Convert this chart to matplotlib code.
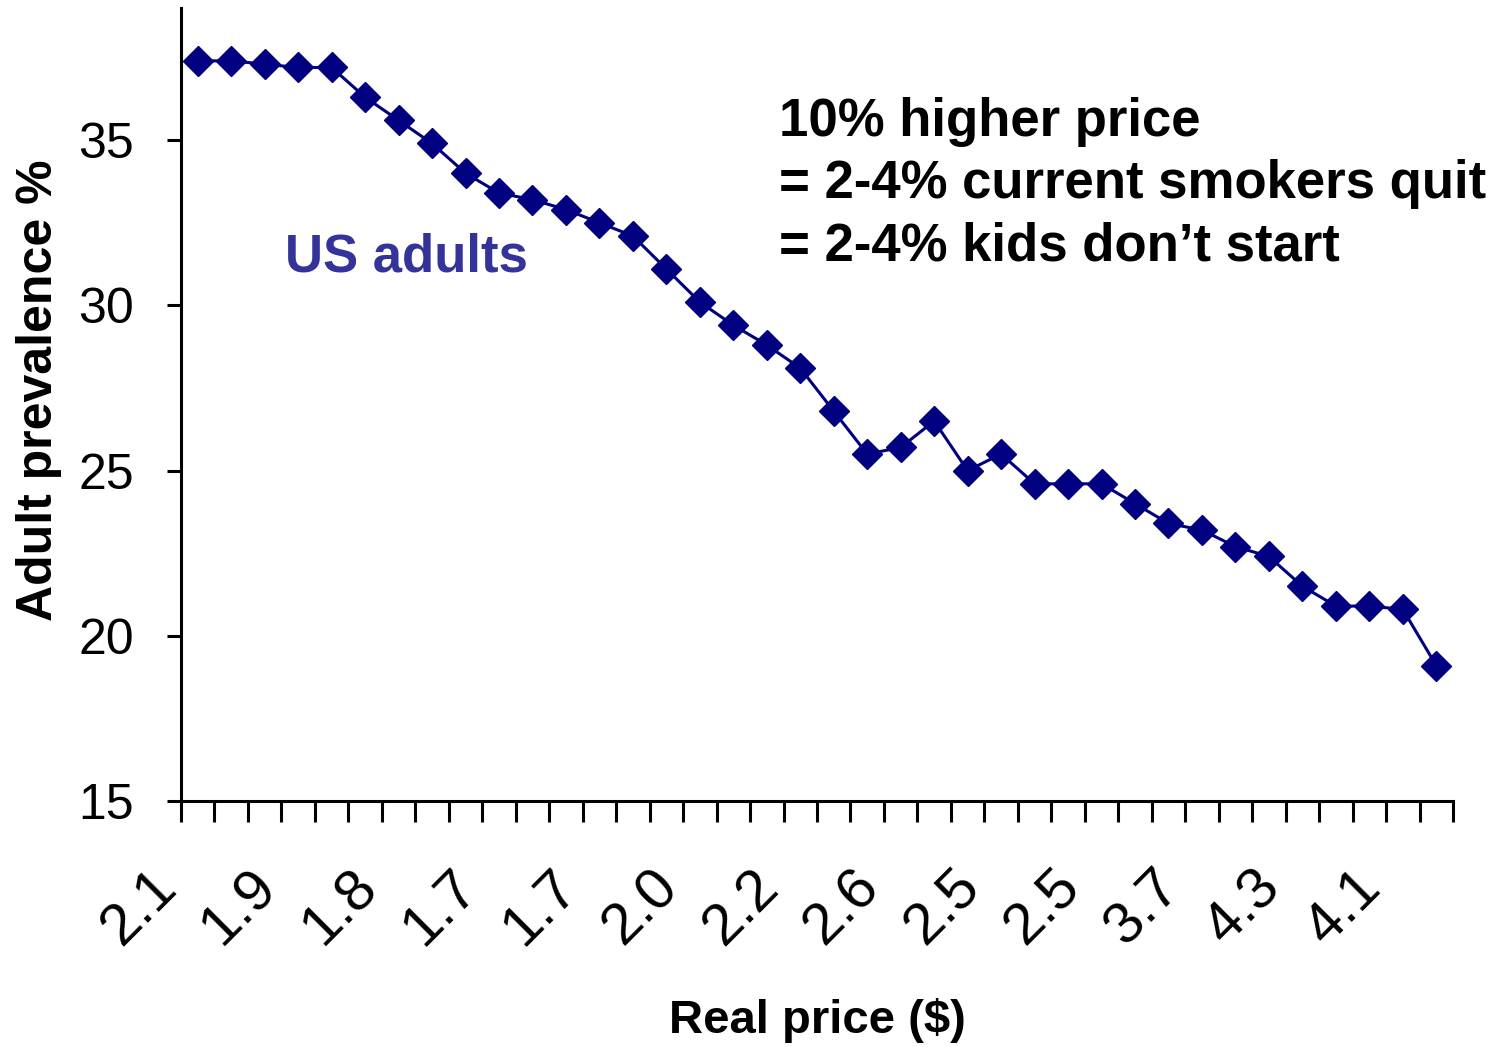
import numpy as np
import matplotlib.pyplot as plt
import matplotlib.transforms as mtransforms

plt.rcParams['font.family'] = ['Liberation Sans', 'DejaVu Sans']

# adult smoking prevalence (%), one point per year
prevalence = [37.4, 37.4, 37.3, 37.2, 37.2, 36.3, 35.6, 34.9, 34.0, 33.4,
              33.2, 32.9, 32.5, 32.1, 31.1, 30.1, 29.4, 28.8, 28.1, 26.8,
              25.5, 25.7, 26.5, 25.0, 25.5, 24.6, 24.6, 24.6, 24.0, 23.4,
              23.2, 22.7, 22.4, 21.5, 20.9, 20.9, 20.8, 19.1]

# real price ($), labelled every third category
price_labels = ['2.1', '1.9', '1.8', '1.7', '1.7', '2.0', '2.2',
                '2.6', '2.5', '2.5', '3.7', '4.3', '4.1']

navy = '#000080'

fig = plt.figure(figsize=(15.03, 10.47), dpi=100)
ax = fig.add_axes([181/1503, 1 - 801/1047, 1272/1503, 793/1047])

x = np.arange(len(prevalence))
ax.plot(x, prevalence, color=navy, lw=2.2, marker='D', ms=15.5,
        mfc=navy, mec=navy)

ax.set_xlim(-0.5, len(prevalence) - 0.5)
ax.set_ylim(15, 39)
ax.set_yticks([15, 20, 25, 30, 35])

# ticks at category boundaries, labels every third category
ax.set_xticks(np.arange(-0.5, len(prevalence), 1), minor=True)
ax.set_xticks(x[::3])
ax.set_xticklabels(price_labels, rotation=45, ha='right', va='center',
                   rotation_mode='anchor')
ax.tick_params(axis='x', which='major', length=0, pad=56, labelsize=42)
ax.tick_params(axis='x', which='minor', length=15, width=2.2, direction='out')
ax.tick_params(axis='y', length=10, width=2.2, pad=24, labelsize=36)
shift = mtransforms.ScaledTranslation(-0.30, 0, fig.dpi_scale_trans)
for lab in ax.get_xticklabels():
    lab.set_transform(lab.get_transform() + shift)

for s in ['top', 'right']:
    ax.spines[s].set_visible(False)
for s in ['left', 'bottom']:
    ax.spines[s].set_linewidth(2.2)

ax.set_ylabel('Adult prevalence %', fontsize=36, fontweight='bold')
ax.yaxis.set_label_coords((62 - 181) / 1272, (801 - 390) / 793)
ax.set_xlabel('Real price ($)', fontsize=34, fontweight='bold')
ax.xaxis.set_label_coords(0.5, (801 - 998) / 793)

ax.text(285/1503, 1 - 258/1047, 'US adults', transform=fig.transFigure,
        fontsize=38, fontweight='bold', color='#333399', va='center', ha='left')
ax.text(779/1503, 1 - 97/1047,
        '10% higher price\n= 2-4% current smokers quit\n= 2-4% kids don\u2019t start',
        transform=fig.transFigure, fontsize=38, fontweight='bold',
        va='top', ha='left', linespacing=1.31)

fig.savefig('out.png', dpi=100)
